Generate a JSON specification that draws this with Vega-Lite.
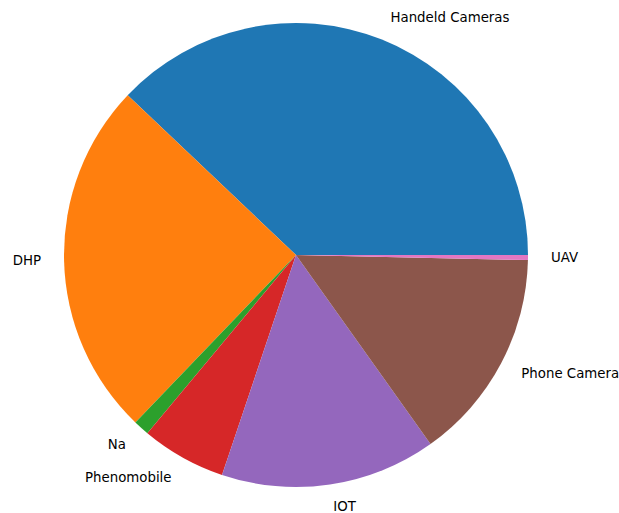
{
  "$schema": "https://vega.github.io/schema/vega-lite/v6.json",
  "autosize": {"type": "none"},
  "width": 592,
  "height": 510,
  "padding": {"left": 0, "top": 0, "right": 27, "bottom": 3},
  "background": "white",
  "view": {"stroke": null},
  "data": {
    "values": [
      {"category": "Handeld Cameras", "value": 37.9, "order": 1},
      {"category": "DHP", "value": 24.9, "order": 2},
      {"category": "Na", "value": 1.1, "order": 3},
      {"category": "Phenomobile", "value": 5.9, "order": 4},
      {"category": "IOT", "value": 15.0, "order": 5},
      {"category": "Phone Camera", "value": 14.8, "order": 6},
      {"category": "UAV", "value": 0.35, "order": 7}
    ]
  },
  "transform": [
    {"stack": "value", "groupby": [], "sort": [{"field": "order", "order": "ascending"}], "offset": "normalize", "as": ["v0", "v1"]},
    {"calculate": "(datum.v0 + datum.v1) / 2", "as": "mid"}
  ],
  "layer": [
    {
      "mark": {"type": "arc", "outerRadius": 232},
      "encoding": {
        "theta": {"field": "v0", "type": "quantitative", "scale": {"domain": [0, 1], "range": [1.5707963, -4.712389]}},
        "theta2": {"field": "v1"},
        "color": {
          "field": "category",
          "type": "nominal",
          "scale": {
            "domain": ["Handeld Cameras", "DHP", "Na", "Phenomobile", "IOT", "Phone Camera", "UAV"],
            "range": ["#1f77b4", "#ff7f0e", "#2ca02c", "#d62728", "#9467bd", "#8c564b", "#e377c2"]
          },
          "legend": null
        }
      }
    },
    {
      "transform": [{"filter": "indexof(['DHP','Na','Phenomobile'], datum.category) < 0"}],
      "mark": {"type": "text", "radius": 255, "align": "left", "baseline": "middle", "font": "DejaVu Sans", "fontSize": 13.33, "color": "#000000"},
      "encoding": {
        "theta": {"field": "mid", "type": "quantitative"},
        "text": {"field": "category"}
      }
    },
    {
      "transform": [{"filter": "indexof(['DHP','Na','Phenomobile'], datum.category) >= 0"}],
      "mark": {"type": "text", "radius": 255, "align": "right", "baseline": "middle", "font": "DejaVu Sans", "fontSize": 13.33, "color": "#000000"},
      "encoding": {
        "theta": {"field": "mid", "type": "quantitative"},
        "text": {"field": "category"}
      }
    }
  ]
}
